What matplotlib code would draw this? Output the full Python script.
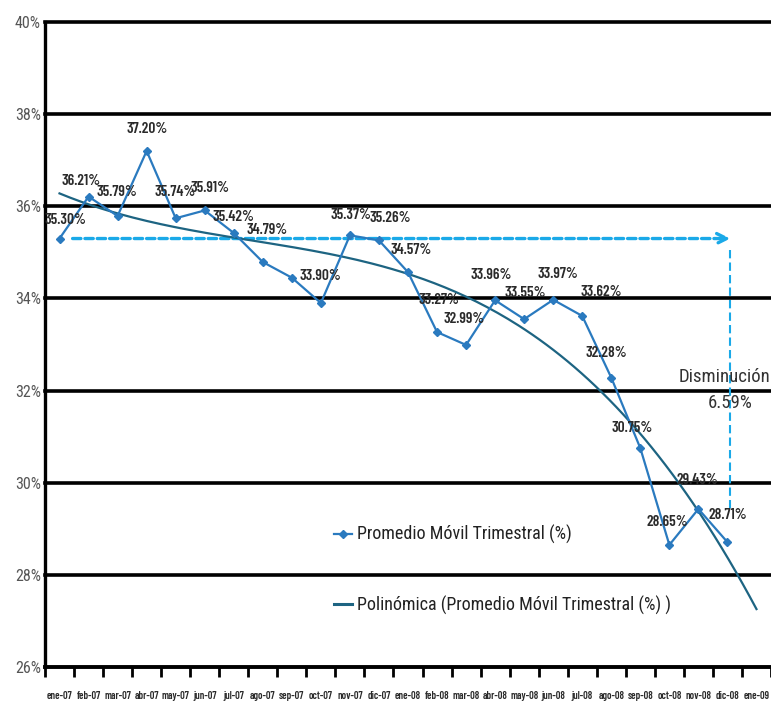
import numpy as np
import matplotlib
matplotlib.use("Agg")
import matplotlib.pyplot as plt
from matplotlib.lines import Line2D

plt.rcParams['font.family'] = ['Roboto Condensed', 'DejaVu Sans']
NARROW = ['Barlow Condensed', 'Roboto Condensed', 'DejaVu Sans']

# ---------------- data ----------------
months = ["ene-07", "feb-07", "mar-07", "abr-07", "may-07", "jun-07", "jul-07", "ago-07",
          "sep-07", "oct-07", "nov-07", "dic-07", "ene-08", "feb-08", "mar-08", "abr-08",
          "may-08", "jun-08", "jul-08", "ago-08", "sep-08", "oct-08", "nov-08", "dic-08",
          "ene-09"]
values = [35.30, 36.21, 35.79, 37.20, 35.74, 35.91, 35.42, 34.79, 34.45, 33.90, 35.37,
          35.26, 34.57, 33.27, 32.99, 33.96, 33.55, 33.97, 33.62, 32.28, 30.75, 28.65,
          29.43, 28.71]
labels = ["35.30%", "36.21%", "35.79%", "37.20%", "35.74%", "35.91%", "35.42%", "34.79%",
          None, "33.90%", "35.37%", "35.26%", "34.57%", "33.27%", "32.99%", "33.96%",
          "33.55%", "33.97%", "33.62%", "32.28%", "30.75%", "28.65%", "29.43%", "28.71%"]
yticks = [26, 28, 30, 32, 34, 36, 38, 40]
series_name = "Promedio Móvil Trimestral (%)"
trend_name = "Polinómica (Promedio Móvil Trimestral (%) )"
decrease_title = "Disminución"
decrease_text = "6.59%"

# label offsets in pixels (layout only)
label_offsets = [(6, 19), (-7, 16), (-1, 24), (0, 22), (-1, 26), (5, 22), (0, 16), (4, 32),
                 (0, 0), (-1, 27), (1, 20), (11, 22), (3, 22), (2, 32), (-2, 26), (-4, 25),
                 (1, 26), (5, 26), (19, 24), (-5, 25), (-8, 20), (-2, 23), (-1, 29), (0, 27)]

# ---------------- figure ----------------
W, H = 771, 707
fig = plt.figure(figsize=(W / 100, H / 100), dpi=100)
ax = fig.add_axes([45 / W, 1 - 667 / H, (771 - 45) / W, (667 - 22) / H])

x = np.arange(len(values))
xt = np.arange(len(months))

ax.set_xlim(-0.5, len(months) - 0.5)
ax.set_ylim(26, 40)

for yv in yticks[1:]:
    ax.axhline(yv, color='black', lw=2.6, zorder=1, clip_on=False)

# polynomial trend (order 3) incl. 1 period forecast
coef = np.polyfit(x, values, 3)
xf = np.linspace(0, len(months) - 1, 200)
trend_color = '#1d6482'
data_color = '#2a7abf'
ax.plot(xf, np.polyval(coef, xf), color=trend_color, lw=1.6, zorder=3)

ax.plot(x, values, color=data_color, lw=1.6, marker='D', ms=4.5, zorder=4)

for xi, v, lab, (dx, dy) in zip(x, values, labels, label_offsets):
    if lab is None:
        continue
    ax.annotate(lab, (xi, v), xytext=(dx * 0.72, dy * 0.72), textcoords='offset points',
                ha='center', va='center', fontsize=11, fontweight='semibold',
                family=NARROW, color='#2a2a2a', zorder=5)

# dashed annotation
dash_color = '#1aa9e8'
ax.annotate("", xy=(23.1, values[0]), xytext=(0.45, values[0]),
            arrowprops=dict(arrowstyle='->', color=dash_color, lw=2.4, ls=(0, (2.5, 1.2)),
                            mutation_scale=18, shrinkA=0, shrinkB=0), zorder=2)
ax.plot([23.1, 23.1], [values[0] - 0.25, 29.4], color=dash_color, lw=1.5,
        ls=(0, (4, 2)), zorder=2)
ax.text(24.48, 32.3, decrease_title, ha='right', va='center', fontsize=13.5,
        color='#333333', zorder=5)
ax.text(23.1, 31.72, decrease_text, ha='center', va='center', fontsize=13.5,
        color='#333333', zorder=5)

# axes styling
ax.set_yticks(yticks)
ax.set_yticklabels([f"{t}%" for t in yticks], color='#555555', fontsize=11.5)
ax.tick_params(axis='y', length=0, pad=3)
ax.set_xticks(np.arange(len(months) + 1) - 0.5)
ax.set_xticklabels([])
ax.set_xticks(xt, minor=True)
ax.set_xticklabels(months, minor=True, fontsize=7.5, fontweight='semibold',
                   family=NARROW, color='#2a2a2a')
ax.tick_params(axis='x', which='major', length=7, width=2, color='black', direction='out')
ax.tick_params(axis='x', which='minor', length=0, pad=17)
for s in ['top', 'right']:
    ax.spines[s].set_visible(False)
ax.spines['left'].set_linewidth(2.4)
ax.spines['bottom'].set_linewidth(2.8)

# legend
h1 = Line2D([], [], color=data_color, lw=1.6, marker='D', ms=4.5)
h2 = Line2D([], [], color=trend_color, lw=2.2)
leg = ax.legend([h1, h2], [series_name, trend_name],
                loc='upper left', bbox_to_anchor=(0.375, 0.245), frameon=False,
                fontsize=13, handlelength=1.0, handletextpad=0.3, labelspacing=2.85)
for t in leg.get_texts():
    t.set_color('#222222')

fig.savefig("out.png", dpi=100)
